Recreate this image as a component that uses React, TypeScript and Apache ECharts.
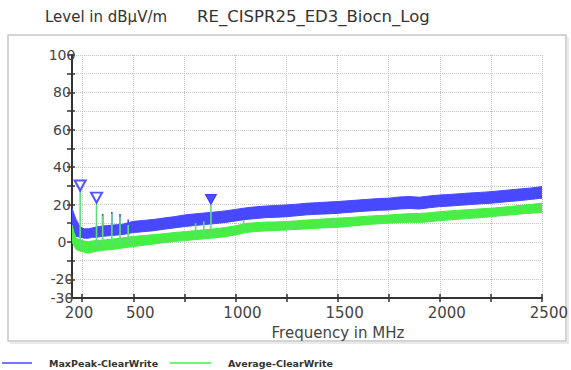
import React, { useEffect, useRef } from 'react';
import * as echarts from 'echarts';

// Frequencies (MHz) at which the trace envelopes were read
const freqs = [
  200, 210, 220, 240, 260, 280, 300, 320, 350, 400, 450,
  500, 550, 600, 650, 700, 750, 800, 850, 900, 950, 1000,
  1050, 1100, 1150, 1200, 1250, 1300, 1350, 1400, 1450, 1500,
  1550, 1600, 1650, 1700, 1750, 1800, 1850, 1900, 1950, 2000,
  2050, 2100, 2150, 2200, 2250, 2300, 2350, 2400, 2450, 2500,
];

// MaxPeak-ClearWrite band (upper / lower envelope), dBµV/m
const maxPeakTop = [
  18, 15, 12, 8, 7, 7, 7.5, 8, 8.5, 9, 9.5,
  11, 11.5, 12, 12.8, 13.5, 14.4, 15, 15.5, 16, 16.6, 17.4,
  18.2, 18.8, 19.2, 19.5, 19.8, 20.2, 20.7, 21, 21.3, 21.6,
  22, 22.4, 22.8, 23.2, 23.4, 24, 24.3, 23.9, 24.6, 25.1,
  25.4, 25.8, 26.2, 26.5, 26.9, 27.4, 27.9, 28.4, 28.9, 29.6,
];
const maxPeakBottom = [
  8, 5, 3, 2.5, 2, 2, 2.5, 2.5, 3, 3.5, 4,
  5, 5.5, 6, 6.8, 7.5, 8.2, 8.8, 9.3, 9.8, 10.4, 11.2,
  12, 12.5, 13, 13.2, 13.5, 14, 14.5, 14.8, 15, 15.3,
  15.8, 16.2, 16.6, 16.9, 17.1, 17.6, 17.9, 17.6, 18.3, 18.9,
  19.2, 19.6, 20, 20.4, 20.7, 21.2, 21.7, 22.2, 22.8, 23.4,
];

// Average-ClearWrite band (upper / lower envelope), dBµV/m
const averageTop = [
  9, 5, 2, 1, 0.5, 0.2, 0.5, 0.8, 1, 1.5, 2.2,
  2.9, 3.4, 3.9, 4.4, 5, 5.5, 6, 6.5, 7, 7.7, 8.6,
  9.8, 10.3, 10.6, 10.7, 10.9, 11.3, 11.7, 12, 12.4, 12.7,
  13, 13.4, 13.8, 14.1, 14.4, 14.8, 15.1, 15.2, 15.6, 16.2,
  16.6, 17, 17.3, 17.7, 18, 18.5, 19, 19.6, 20.1, 20.7,
];
const averageBottom = [
  0, -2, -4, -5, -5.5, -6, -5.5, -5, -4.5, -4, -3.2,
  -2.5, -1.8, -1.1, -0.4, 0.2, 0.7, 1.2, 1.7, 2.2, 2.8, 3.7,
  5, 5.6, 5.9, 6.1, 6.4, 6.7, 7, 7.3, 7.6, 7.8,
  8.3, 8.8, 9.3, 9.7, 10, 10.3, 10.5, 10.4, 10.8, 11.4,
  11.8, 12.2, 12.6, 13, 13.5, 14, 14.5, 15, 15.4, 15.7,
];

// Narrow spikes
const avgSpikeFreqs = [240, 320, 350, 395, 435, 475, 805, 845, 880, 1040, 1475];
const avgSpikePeaks = [27.5, 21, 14, 15, 13.5, 9, 10, 11, 20, 11.5, 13];
const avgSpikeBases = [-3, -3, -2.5, -2, -1.5, -1, 3, 3.5, 4, 7, 9.5];
const peakSpikeFreqs = [350, 395, 435, 475];
const peakSpikePeaks = [15, 16, 15, 12];
const peakSpikeBases = [4, 4.5, 5, 5.5];

// Markers
const markerFreqs = [240, 320, 880];
const markerValues = [27.5, 21, 20];
const markerFilled = [false, false, true];

// Axes
const xTickValues = [250, 500, 750, 1000, 1250, 1500, 1750, 2000, 2250, 2500];
const xLabelValues = [200, 500, 1000, 1500, 2000, 2500];
const yLabelValues = [100, 80, 60, 40, 20, 0, -20, -30];

const BLUE = '#4848ff';
const GREEN = '#46ee46';
const FONT = 'DejaVu Sans';

export default function App() {
  const ref = useRef<HTMLDivElement>(null);

  useEffect(() => {
    document.body.style.margin = '0';
    const chart = echarts.init(ref.current!, null, { renderer: 'svg' });

    const bandSeries = (name: string, top: number[], bottom: number[], color: string, z: number) => ({
      name,
      type: 'custom',
      z,
      silent: true,
      clip: true,
      data: freqs.map((f, i) => [f, bottom[i], top[i]]),
      encode: { x: 0, y: [1, 2] },
      renderItem: (params: any, api: any) => {
        if (params.dataIndex !== 0) return null;
        const upper = freqs.map((f, i) => api.coord([f, top[i]]));
        const lower = freqs.map((f, i) => api.coord([f, bottom[i]])).reverse();
        return {
          type: 'polygon',
          shape: { points: upper.concat(lower) },
          style: { fill: color, stroke: color, lineWidth: 1 },
        };
      },
    });

    const spikeSeries = (fs: number[], bs: number[], ps: number[], color: string, z: number) => ({
      type: 'custom',
      z,
      silent: true,
      data: fs.map((f, i) => [f, bs[i], ps[i]]),
      encode: { x: 0, y: [1, 2] },
      renderItem: (_p: any, api: any) => {
        const a = api.coord([api.value(0), api.value(1)]);
        const b = api.coord([api.value(0), api.value(2)]);
        return {
          type: 'line',
          shape: { x1: a[0], y1: a[1], x2: b[0], y2: b[1] },
          style: { stroke: color, lineWidth: 1.6 },
        };
      },
    });

    const option: any = {
      animation: false,
      grid: { left: 72, top: 55, right: 28, bottom: 72, containLabel: false },
      xAxis: [
        {
          type: 'value',
          min: 200,
          max: 2500,
          name: 'Frequency in MHz',
          nameLocation: 'middle',
          nameGap: 27,
          nameTextStyle: {
            fontFamily: FONT,
            fontSize: 15,
            color: '#444',
            padding: [0, 0, 0, 62],
            verticalAlign: 'top',
          },
          axisLine: { show: true, onZero: false, lineStyle: { color: '#333', width: 2 } },
          axisTick: { show: true, length: 4, customValues: xTickValues, lineStyle: { color: '#333', width: 1.5 } },
          axisLabel: {
            customValues: xLabelValues,
            formatter: (v: number) => String(v),
            fontFamily: FONT,
            fontSize: 15,
            color: '#444',
            margin: 7,
            padding: [0, 0, 0, 14],
          },
          splitLine: { show: true, lineStyle: { color: '#c4c4c4', type: 'dotted', width: 1 } },
        },
        {
          type: 'value',
          min: 200,
          max: 2500,
          position: 'bottom',
          axisLine: { show: false, onZero: false },
          axisTick: { show: true, inside: true, length: 4, customValues: xTickValues, lineStyle: { color: '#333', width: 1.5 } },
          axisLabel: { show: false },
          splitLine: { show: false },
        },
      ],
      yAxis: [
        {
          type: 'value',
          min: -30,
          max: 100,
          interval: 10,
          axisLine: { show: true, onZero: false, lineStyle: { color: '#333', width: 2 } },
          axisTick: { show: true, length: 5, lineStyle: { color: '#333', width: 1.5 } },
          axisLabel: {
            fontFamily: FONT,
            fontSize: 14,
            color: '#444',
            align: 'center',
            margin: 10,
            formatter: (v: number) => (yLabelValues.includes(v) ? String(v) : ''),
          },
          splitLine: { show: true, lineStyle: { color: '#c4c4c4', type: 'dotted', width: 1 } },
        },
        {
          type: 'value',
          min: -30,
          max: 100,
          interval: 10,
          position: 'left',
          axisLine: { show: false, onZero: false },
          axisTick: { show: true, inside: true, length: 3, lineStyle: { color: '#333', width: 1.5 } },
          axisLabel: { show: false },
          splitLine: { show: false },
        },
      ],
      graphic: [
        {
          type: 'rect',
          z: -10,
          silent: true,
          shape: { x: 8, y: 35, width: 558, height: 306 },
          style: { fill: 'none', stroke: '#c6c6c6', lineWidth: 1.5 },
        },
        {
          type: 'polyline',
          z: -10,
          silent: true,
          shape: { points: [[10, 343], [568, 343], [568, 37]] },
          style: { fill: 'none', stroke: '#e4e4e4', lineWidth: 1.5 },
        },
        {
          type: 'text',
          x: 45,
          y: 17,
          style: { text: 'Level in dBµV/m', fontFamily: FONT, fontSize: 15, fill: '#333', verticalAlign: 'middle' },
        },
        {
          type: 'text',
          x: 197,
          y: 16,
          style: { text: 'RE_CISPR25_ED3_Biocn_Log', fontFamily: FONT, fontSize: 16.5, fill: '#333', verticalAlign: 'middle' },
        },
        {
          type: 'line',
          shape: { x1: 2, y1: 363, x2: 32, y2: 363 },
          style: { stroke: BLUE, lineWidth: 1.5 },
        },
        {
          type: 'text',
          x: 49,
          y: 363,
          style: { text: 'MaxPeak-ClearWrite', fontFamily: FONT, fontSize: 9.5, fontWeight: 'bold', fill: '#333', verticalAlign: 'middle' },
        },
        {
          type: 'line',
          shape: { x1: 170, y1: 363, x2: 211, y2: 363 },
          style: { stroke: GREEN, lineWidth: 1.5 },
        },
        {
          type: 'text',
          x: 228,
          y: 363,
          style: { text: 'Average-ClearWrite', fontFamily: FONT, fontSize: 9.5, fontWeight: 'bold', fill: '#333', verticalAlign: 'middle' },
        },
      ],
      series: [
        bandSeries('MaxPeak-ClearWrite', maxPeakTop, maxPeakBottom, BLUE, 2),
        spikeSeries(peakSpikeFreqs, peakSpikeBases, peakSpikePeaks, BLUE, 3),
        bandSeries('Average-ClearWrite', averageTop, averageBottom, GREEN, 4),
        spikeSeries(avgSpikeFreqs, avgSpikeBases, avgSpikePeaks, '#62dc7a', 5),
        {
          name: 'Markers',
          type: 'scatter',
          z: 6,
          silent: true,
          symbol: 'path://M0,0 L10,0 L5,10 Z',
          symbolSize: [11, 10],
          symbolOffset: [0, -5],
          data: markerFreqs.map((f, i) => ({
            value: [f, markerValues[i]],
            itemStyle: markerFilled[i]
              ? { color: '#2222ff', borderColor: '#2222ff', borderWidth: 1 }
              : { color: '#ffffff', borderColor: '#2a2aff', borderWidth: 2 },
          })),
        },
      ],
    };

    chart.setOption(option);
    return () => chart.dispose();
  }, []);

  return <div ref={ref} style={{ width: 571, height: 370 }} />;
}
